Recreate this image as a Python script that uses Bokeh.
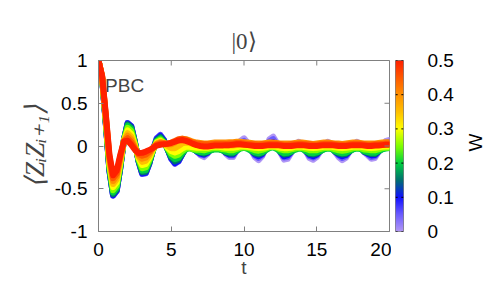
import numpy as np
from bokeh.plotting import figure
from bokeh.layouts import row
from bokeh.models import Range1d, FixedTicker, LinearColorMapper, Label
from bokeh.core.properties import value
from bokeh.embed import file_html
from bokeh.resources import INLINE

# time grid (t = 0 ... 20, step 0.25)
t = np.linspace(0, 20, 81)

# disorder strengths W of the plotted curves
w_values = [0.0, 0.05, 0.10, 0.15, 0.20, 0.25, 0.30, 0.35, 0.40, 0.45, 0.50]

# <Z_i Z_{i+1}>: early (t=0..3.5), middle (t=3.75..6.75), late (t=7..20)
corr_w000 = ([1.0, 0.788, 0.265, -0.290, -0.581, -0.528, -0.257, 0.074, 0.269, 0.234, 0.050, -0.179, -0.326, -0.319, -0.203]
             + [-0.04, 0.09, 0.13, 0.07, -0.04, -0.15, -0.21, -0.18, -0.10, -0.01, 0.02, -0.01, -0.06]
             + [-0.11, -0.13, -0.09, -0.02, 0.02, 0.01, -0.03, -0.09, -0.13, -0.13, -0.05, 0.06, 0.09, 0.04, -0.05,
                -0.13, -0.165, -0.12, -0.02, 0.08, 0.11, 0.04, -0.08, -0.16, -0.15, -0.08, 0.00, 0.05, 0.03, -0.06,
                -0.14, -0.16, -0.13, -0.06, 0.01, 0.05, 0.03, -0.07, -0.13, -0.165, -0.14, -0.07, 0.01, 0.05, 0.03,
                -0.07, -0.11, -0.15, -0.14, -0.07, 0.01, 0.06, 0.07])
corr_w005 = ([1.0, 0.788, 0.265, -0.290, -0.581, -0.528, -0.257, 0.074, 0.269, 0.234, 0.050, -0.179, -0.326, -0.319, -0.203]
             + [-0.04, 0.09, 0.13, 0.07, -0.04, -0.15, -0.205, -0.18, -0.10, -0.02, 0.01, -0.02, -0.065]
             + [-0.10, -0.11, -0.08, -0.025, 0.01, 0.0, -0.03, -0.08, -0.11, -0.11, -0.05, 0.04, 0.06, 0.02, -0.05,
                -0.11, -0.14, -0.105, -0.025, 0.055, 0.08, 0.02, -0.07, -0.135, -0.13, -0.07, -0.01, 0.03, 0.015, -0.06,
                -0.12, -0.135, -0.11, -0.055, 0.0, 0.03, 0.015, -0.065, -0.11, -0.14, -0.12, -0.065, 0.0, 0.03, 0.015,
                -0.065, -0.095, -0.13, -0.12, -0.065, 0.0, 0.04, 0.05])
corr_w010 = ([1.0, 0.789, 0.267, -0.286, -0.576, -0.523, -0.254, 0.074, 0.265, 0.230, 0.048, -0.177, -0.321, -0.314, -0.200]
             + [-0.045, 0.08, 0.12, 0.065, -0.04, -0.145, -0.20, -0.175, -0.10, -0.025, 0.0, -0.025, -0.065]
             + [-0.09, -0.10, -0.08, -0.035, -0.01, -0.02, -0.04, -0.08, -0.10, -0.10, -0.055, 0.015, 0.03, 0.0, -0.055,
                -0.10, -0.12, -0.095, -0.035, 0.025, 0.045, 0.0, -0.07, -0.12, -0.11, -0.07, -0.025, 0.005, -0.005, -0.06,
                -0.105, -0.12, -0.10, -0.06, -0.015, 0.005, -0.005, -0.065, -0.10, -0.12, -0.105, -0.065, -0.015, 0.005, -0.005,
                -0.065, -0.09, -0.11, -0.105, -0.065, -0.015, 0.015, 0.02])
corr_w015 = ([1.0, 0.790, 0.273, -0.276, -0.564, -0.511, -0.246, 0.073, 0.255, 0.219, 0.043, -0.172, -0.309, -0.301, -0.192]
             + [-0.05, 0.07, 0.105, 0.055, -0.04, -0.135, -0.18, -0.16, -0.095, -0.035, -0.01, -0.03, -0.06]
             + [-0.08, -0.09, -0.07, -0.045, -0.03, -0.035, -0.05, -0.075, -0.09, -0.09, -0.055, -0.015, 0.0, -0.02, -0.055,
                -0.09, -0.10, -0.085, -0.045, -0.005, 0.005, -0.02, -0.07, -0.10, -0.095, -0.07, -0.035, -0.015, -0.025, -0.06,
                -0.095, -0.10, -0.09, -0.06, -0.035, -0.015, -0.025, -0.065, -0.09, -0.10, -0.095, -0.065, -0.035, -0.015, -0.025,
                -0.065, -0.08, -0.095, -0.095, -0.065, -0.035, -0.015, -0.01])
corr_w020 = ([1.0, 0.793, 0.282, -0.261, -0.545, -0.492, -0.233, 0.071, 0.238, 0.201, 0.036, -0.164, -0.289, -0.281, -0.179]
             + [-0.05, 0.06, 0.09, 0.045, -0.04, -0.12, -0.155, -0.14, -0.085, -0.04, -0.025, -0.04, -0.06]
             + [-0.07, -0.075, -0.065, -0.05, -0.04, -0.04, -0.05, -0.065, -0.075, -0.075, -0.055, -0.03, -0.02, -0.035, -0.055,
                -0.075, -0.085, -0.075, -0.05, -0.025, -0.015, -0.035, -0.065, -0.085, -0.08, -0.065, -0.045, -0.03, -0.035, -0.06,
                -0.08, -0.085, -0.075, -0.06, -0.04, -0.03, -0.035, -0.06, -0.075, -0.085, -0.08, -0.06, -0.04, -0.03, -0.035,
                -0.06, -0.07, -0.08, -0.08, -0.06, -0.04, -0.03, -0.025])
corr_w025 = ([1.0, 0.797, 0.295, -0.238, -0.517, -0.463, -0.214, 0.069, 0.213, 0.175, 0.025, -0.153, -0.260, -0.250, -0.160]
             + [-0.05, 0.05, 0.075, 0.04, -0.03, -0.09, -0.115, -0.10, -0.06, -0.03, -0.025, -0.035, -0.045]
             + [-0.045, -0.05, -0.04, -0.03, -0.025, -0.025, -0.035, -0.04, -0.05, -0.05, -0.035, -0.02, -0.015, -0.02, -0.035,
                -0.05, -0.055, -0.045, -0.03, -0.015, -0.01, -0.02, -0.04, -0.05, -0.05, -0.04, -0.03, -0.02, -0.025, -0.035,
                -0.05, -0.05, -0.05, -0.035, -0.025, -0.02, -0.025, -0.04, -0.05, -0.055, -0.05, -0.04, -0.025, -0.02, -0.025,
                -0.04, -0.045, -0.05, -0.05, -0.04, -0.025, -0.02, -0.02])
corr_w030 = ([1.0, 0.801, 0.312, -0.209, -0.481, -0.427, -0.191, 0.066, 0.182, 0.142, 0.011, -0.138, -0.223, -0.212, -0.137]
             + [-0.04, 0.04, 0.06, 0.035, -0.02, -0.06, -0.075, -0.06, -0.03, -0.01, -0.01, -0.015, -0.02]
             + [-0.02, -0.02, -0.02, -0.01, -0.01, -0.01, -0.015, -0.02, -0.02, -0.02, -0.015, -0.005, -0.005, -0.01, -0.015,
                -0.02, -0.025, -0.02, -0.015, -0.005, -0.005, -0.01, -0.02, -0.025, -0.025, -0.02, -0.01, -0.01, -0.01, -0.015,
                -0.02, -0.025, -0.02, -0.015, -0.01, -0.01, -0.01, -0.015, -0.02, -0.025, -0.02, -0.015, -0.01, -0.01, -0.01,
                -0.015, -0.02, -0.025, -0.02, -0.015, -0.01, -0.005, -0.005])
corr_w035 = ([1.0, 0.806, 0.328, -0.179, -0.445, -0.391, -0.167, 0.063, 0.151, 0.110, -0.003, -0.123, -0.186, -0.174, -0.113]
             + [-0.03, 0.03, 0.05, 0.035, 0.0, -0.025, -0.025, 0.0, 0.03, 0.04, 0.035, 0.025, 0.015]
             + [0.01, 0.005, 0.005, 0.01, 0.015, 0.015, 0.01, 0.005, 0.005, 0.005, 0.01, 0.015, 0.02, 0.015, 0.01,
                0.005, 0.0, 0.005, 0.01, 0.015, 0.02, 0.015, 0.01, 0.005, 0.005, 0.005, 0.01, 0.015, 0.015, 0.01,
                0.005, 0.0, 0.005, 0.01, 0.015, 0.015, 0.015, 0.01, 0.005, 0.0, 0.005, 0.01, 0.015, 0.015, 0.015,
                0.01, 0.005, 0.005, 0.005, 0.01, 0.015, 0.02, 0.02])
corr_w040 = ([1.0, 0.811, 0.345, -0.150, -0.410, -0.355, -0.143, 0.060, 0.120, 0.077, -0.017, -0.108, -0.149, -0.136, -0.089]
             + [-0.02, 0.025, 0.04, 0.035, 0.02, 0.02, 0.04, 0.07, 0.085, 0.08, 0.065, 0.05, 0.04]
             + [0.035, 0.03, 0.03, 0.035, 0.04, 0.04, 0.04, 0.04, 0.045, 0.045, 0.05, 0.05, 0.045, 0.04, 0.035,
                0.03, 0.03, 0.03, 0.035, 0.04, 0.04, 0.035, 0.03, 0.03, 0.03, 0.03, 0.035, 0.04, 0.04, 0.035,
                0.03, 0.025, 0.03, 0.035, 0.04, 0.04, 0.035, 0.03, 0.03, 0.025, 0.03, 0.035, 0.04, 0.04, 0.035,
                0.03, 0.03, 0.03, 0.03, 0.035, 0.04, 0.045, 0.045])
corr_w045 = ([1.0, 0.816, 0.360, -0.123, -0.376, -0.322, -0.121, 0.057, 0.091, 0.047, -0.030, -0.095, -0.114, -0.101, -0.067]
             + [-0.015, 0.015, 0.03, 0.03, 0.03, 0.04, 0.06, 0.08, 0.085, 0.075, 0.055, 0.04, 0.03]
             + [0.025, 0.02, 0.02, 0.02, 0.025, 0.025, 0.025, 0.025, 0.03, 0.03, 0.035, 0.035, 0.03, 0.025, 0.02,
                0.02, 0.015, 0.02, 0.02, 0.025, 0.025, 0.025, 0.02, 0.015, 0.015, 0.02, 0.02, 0.025, 0.025, 0.02,
                0.02, 0.015, 0.015, 0.02, 0.025, 0.025, 0.025, 0.02, 0.015, 0.015, 0.015, 0.02, 0.025, 0.025, 0.025,
                0.02, 0.015, 0.015, 0.02, 0.02, 0.025, 0.03, 0.03])
corr_w050 = ([1.0, 0.820, 0.376, -0.096, -0.343, -0.288, -0.099, 0.054, 0.062, 0.016, -0.043, -0.081, -0.080, -0.065, -0.045]
             + [-0.025, 0.005, 0.015, 0.02, 0.025, 0.035, 0.05, 0.065, 0.07, 0.06, 0.045, 0.025, 0.01]
             + [0.0, -0.005, -0.005, 0.0, 0.005, 0.005, 0.005, 0.01, 0.01, 0.015, 0.02, 0.02, 0.015, 0.01, 0.005,
                0.0, 0.0, 0.0, 0.005, 0.01, 0.01, 0.01, 0.005, 0.0, 0.0, 0.0, 0.005, 0.01, 0.01, 0.005,
                0.0, 0.0, 0.0, 0.005, 0.01, 0.01, 0.01, 0.005, 0.0, 0.0, 0.0, 0.005, 0.01, 0.01, 0.01,
                0.005, 0.0, 0.0, 0.005, 0.005, 0.01, 0.015, 0.015])

curves = [corr_w000, corr_w005, corr_w010, corr_w015, corr_w020, corr_w025,
          corr_w030, corr_w035, corr_w040, corr_w045, corr_w050]

x_ticks = [0, 5, 10, 15, 20]
y_ticks = [-1, -0.5, 0, 0.5, 1]
y_tick_labels = {-1: "-1", -0.5: "-0.5", 0: "0", 0.5: "0.5", 1: "1"}
cb_ticks = [0, 0.1, 0.2, 0.3, 0.4, 0.5]
cb_tick_labels = {0: "0", 0.1: "0.1", 0.2: "0.2", 0.3: "0.3", 0.4: "0.4", 0.5: "0.5"}

# colour map (W -> colour)
cb_stops = [0.0, 0.05, 0.10, 0.15, 0.20, 0.25, 0.30, 0.35, 0.40, 0.45, 0.50]
cb_hex = ["#b096f5", "#6a5aff", "#1010ff", "#007070", "#00d040", "#80ff00",
          "#ffff00", "#ffc000", "#ff9000", "#ff5a00", "#ff2000"]


def _rgb(h):
    return [int(h[i:i + 2], 16) for i in (1, 3, 5)]


_stop_rgb = np.array([_rgb(h) for h in cb_hex], dtype=float)


def color_at(w):
    r, g, b = (int(round(np.interp(w, cb_stops, _stop_rgb[:, k]))) for k in range(3))
    return "#%02x%02x%02x" % (r, g, b)


palette = [color_at(v) for v in np.linspace(0, 0.5, 256)]

FONT = "Liberation Sans"
GRAY = "#808080"
TICK_FS = "19px"
TOP, BOTTOM = 60, 53

# ---------------- main panel ----------------
p = figure(width=391, height=284, x_range=Range1d(0, 20), y_range=Range1d(-1, 1),
           output_backend="svg", toolbar_location=None,
           min_border_left=98, min_border_right=2, min_border_top=TOP, min_border_bottom=BOTTOM,
           title="|0⟩")
p.title.align = "center"
p.title.text_font = "Liberation Serif"
p.title.text_font_size = "23px"
p.title.text_font_style = "normal"
p.title.standoff = 14
p.grid.visible = False
p.outline_line_color = GRAY
p.border_fill_color = "white"

for w, vals in zip(w_values, curves):
    p.line(t, vals, line_width=6, line_color=color_at(w), line_join="round", line_cap="round")

for ax in (p.xaxis[0], p.yaxis[0]):
    ax.axis_line_color = GRAY
    ax.major_tick_line_color = GRAY
    ax.major_tick_in = 5
    ax.major_tick_out = 0
    ax.minor_tick_line_color = None
    ax.major_label_text_font = FONT
    ax.major_label_text_font_size = TICK_FS
    ax.major_label_text_color = "black"

xa = p.xaxis[0]
xa.ticker = FixedTicker(ticks=x_ticks)
xa.major_label_standoff = 11
xa.axis_label = "t"
xa.axis_label_text_font = FONT
xa.axis_label_text_font_size = "19px"
xa.axis_label_text_font_style = "normal"
xa.axis_label_standoff = -2

ya = p.yaxis[0]
ya.ticker = FixedTicker(ticks=y_ticks)
ya.major_label_overrides = y_tick_labels
ya.major_label_standoff = 11
ya.axis_label = "⟨ZᵢZᵢ₊₁⟩"
ya.axis_label_text_font = "Liberation Serif"
ya.axis_label_text_font_size = "27px"
ya.axis_label_text_font_style = "italic"
ya.axis_label_standoff = 2

# mirrored inward ticks on the top and right borders
p.scatter(x=x_ticks, y=[p.y_range.end] * len(x_ticks), marker="dash", angle=np.pi / 2,
          size=10, line_color=GRAY, line_width=1)
p.scatter(x=[p.x_range.end] * len(y_ticks), y=y_ticks, marker="dash",
          size=10, line_color=GRAY, line_width=1)

p.add_layout(Label(x=0.45, y=0.71, text="PBC", text_font=FONT, text_font_size=TICK_FS,
                   text_baseline="alphabetic"))

# ---------------- colour bar (bar + tick labels) ----------------
cb = figure(width=65, height=284, x_range=Range1d(0, 15), y_range=Range1d(0, 0.5),
            output_backend="svg", toolbar_location=None,
            x_axis_location=None, y_axis_location="right",
            min_border_left=4, min_border_right=46, min_border_top=TOP, min_border_bottom=BOTTOM)
cb.grid.visible = False
cb.outline_line_color = GRAY
cb.border_fill_color = "white"

mapper = LinearColorMapper(palette=palette, low=0, high=0.5)
ramp = np.linspace(0, 0.5, 256).reshape(256, 1)
cb.image(image=[ramp], x=0, y=0, dw=15, dh=0.5, color_mapper=mapper)
cb.segment(x0=[0] * len(cb_ticks), x1=[4] * len(cb_ticks), y0=cb_ticks, y1=cb_ticks,
           line_color="black", line_width=1)
cb.segment(x0=[11] * len(cb_ticks), x1=[15] * len(cb_ticks), y0=cb_ticks, y1=cb_ticks,
           line_color="black", line_width=1)

cba = cb.yaxis[0]
cba.ticker = FixedTicker(ticks=cb_ticks)
cba.major_label_overrides = cb_tick_labels
cba.axis_line_color = None
cba.major_tick_line_color = None
cba.minor_tick_line_color = None
cba.major_label_standoff = 18
cba.major_label_text_font = FONT
cba.major_label_text_font_size = TICK_FS
cba.major_label_text_color = "black"

# ---------------- colour bar title ----------------
cbt = figure(width=42, height=284, x_range=Range1d(0, 42), y_range=Range1d(0, 0.5),
             output_backend="svg", toolbar_location=None,
             x_axis_location=None, y_axis_location=None,
             min_border_left=0, min_border_right=0, min_border_top=TOP, min_border_bottom=BOTTOM)
cbt.grid.visible = False
cbt.outline_line_color = None
cbt.border_fill_color = "white"
cbt.text(x=[19], y=[0.26], text=["W"], angle=np.pi / 2, text_font=value(FONT),
         text_font_size=value(TICK_FS), text_align="center", text_baseline="middle", text_color="black")

layout = row(p, cb, cbt)
open("out.html", "w").write(file_html(layout, INLINE))
